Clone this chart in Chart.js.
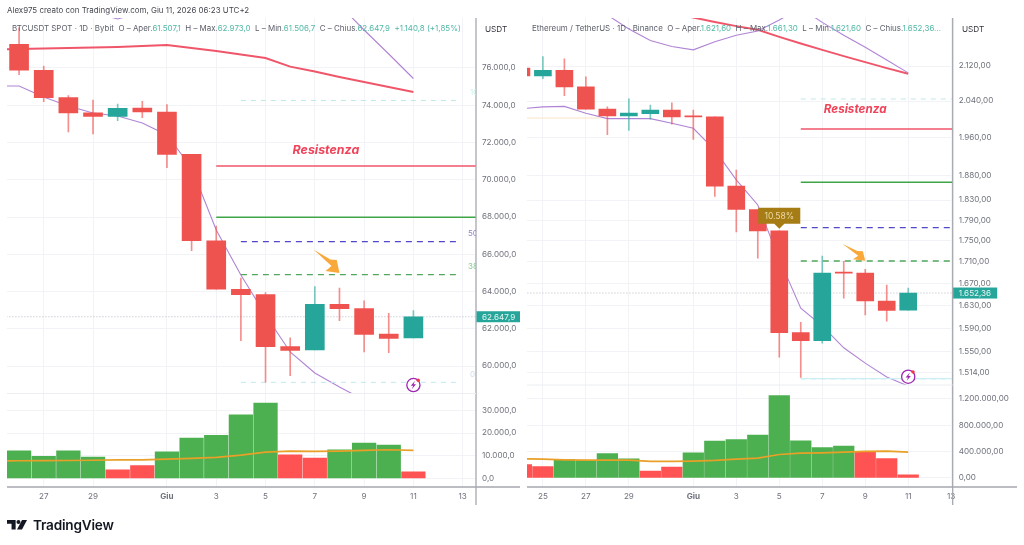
<!DOCTYPE html>
<html>
<head>
<meta charset="utf-8">
<title>BTCUSDT / ETHUSDT</title>
<script src="https://cdn.jsdelivr.net/npm/chart.js@4"></script>
<style>
  html, body { margin: 0; padding: 0; background: #fff; width: 1024px; height: 545px; overflow: hidden; }
  body { position: relative; font-family: Inter, "Liberation Sans", sans-serif; }
  canvas { position: absolute; top: 0; }
  #btcChart { left: 0; }
  #ethChart { left: 520px; }
  .txt { position: absolute; white-space: nowrap; font-size: 7.95px; line-height: 12px; color: #5d606b; }
  .txt b { font-weight: 400; color: #4fb8a4; }
  #credit { left: 7px; top: 4px; color: #454850; font-size: 7.95px; }
  #btcLegend { left: 12px; top: 22px; }
  #ethLegend { left: 532px; top: 22px; }
  .unit { top: 23px; color: #33353c; font-size: 8.2px; }
  #logo { position: absolute; left: 7px; top: 520px; }
  #brand { position: absolute; left: 33px; top: 515px; font-size: 13.6px; line-height: 20px; font-weight: 600; color: #131722; letter-spacing: -0.2px; }
</style>
</head>
<body>
<canvas id="btcChart" width="520" height="545"></canvas>
<canvas id="ethChart" width="504" height="545"></canvas>

<div class="txt" id="credit">Alex975 creato con TradingView.com, Giu 11, 2026 06:23 UTC+2</div>
<div class="txt" id="btcLegend">BTCUSDT SPOT · 1D · Bybit &nbsp;O – Aper.<b>61.507,1</b> &nbsp;H – Max.<b>62.973,0</b> &nbsp;L – Min.<b>61.506,7</b> &nbsp;C – Chius.<b>62.647,9</b> &nbsp;<b>+1.140,8 (+1,85%)</b></div>
<div class="txt" id="ethLegend">Ethereum / TetherUS · 1D · Binance &nbsp;O – Aper.<b>1.621,60</b> &nbsp;H – Max.<b>1.661,30</b> &nbsp;L – Min.<b>1.621,60</b> &nbsp;C – Chius.<b>1.652,36...</b></div>
<div class="txt unit" style="left:485px">USDT</div>
<div class="txt unit" style="left:962px">USDT</div>

<svg id="logo" width="20" height="10" viewBox="0 0 22 11">
  <path fill="#131722" d="M0 0h9.5v10.5H5V4H0z"/><circle cx="12.6" cy="2.2" r="2.2" fill="#131722"/><path fill="#131722" d="M16.5 0H22l-5.5 10.5H11z"/>
</svg>
<div id="brand">TradingView</div>

<script>
// Day numbers count from 31 May = 0, so 1 June = 1
var btcDays = [-5, -4, -3, -2, -1, 0, 1, 2, 3, 4, 5, 6, 7, 8, 9, 10, 11];
var btcOpen = [77272, 75877, 74406, 73600, 73407, 73853, 73638, 71367, 66729, 64121, 63831, 61039, 60862, 63315, 63079, 61722, 61507.1];
var btcHigh = [78150, 76107, 74513, 74282, 74068, 74212, 74030, 71367, 67518, 64727, 63938, 61522, 64260, 64190, 63508, 62832, 62973];
var btcLow = [75640, 74191, 72565, 72457, 73171, 73332, 70648, 66193, 64121, 61362, 59129, 59483, 60862, 62435, 60755, 60717, 61506.7];
var btcClose = [75877, 74406, 73584, 73407, 73837, 73638, 71367, 66729, 64121, 63831, 61039, 60846, 63315, 63079, 61705, 61490, 62647.9];
var btcVolume = [12200, 9700, 12200, 9400, 3800, 5700, 11750, 17750, 18950, 28050, 33200, 10400, 8950, 12600, 15550, 14680, 2950];
var btcVolumeUp = [1, 1, 1, 1, 0, 0, 1, 1, 1, 1, 1, 0, 0, 1, 1, 1, 0];

var btcLineDays = [-6, -5, -4, -3, -2, -1, 0, 1, 2, 3, 4, 5, 6, 7, 8, 9, 10, 11];
var btcUpperBand = [79700, 79500, 79300, 79100, 79000, 78630, 79000, 79400, 80000, 80400, 80600, 80500, 80300, 79900, 79382, 78040, 76752, 75436];
var btcLowerBand = [75034, 75034, 74443, 73960, 73584, 73423, 73048, 72404, 70632, 67304, 64888, 62741, 60755, 59627, 58876, 58178, 57600, 57000];
var btcAverage = [77000, 77020, 77047, 77074, 77100, 77127, 77181, 77235, 77074, 76912, 76725, 76537, 76070, 75812, 75517, 75248, 74980, 74712];
var btcVolumeAverage = [7750, 7780, 7850, 7900, 8000, 8200, 8200, 8500, 8800, 9250, 10280, 11600, 12040, 11900, 12040, 12330, 12630, 12330];

var ethDays = [-7, -6, -5, -4, -3, -2, -1, 0, 1, 2, 3, 4, 5, 6, 7, 8, 9, 10, 11];
var ethOpen = [2115, 2097, 2110, 2072, 2022, 2007, 2012, 2020, 2007, 2005, 1858, 1811, 1769, 1582, 1568, 1690, 1689, 1638, 1621.6];
var ethHigh = [2125, 2142, 2137, 2095, 2027, 2045, 2031, 2036, 2020, 2005, 1891, 1811, 1769, 1600, 1721, 1711, 1696, 1667, 1661.3];
var ethLow = [2090, 2091, 2052, 2022, 1966, 1975, 2000, 1989, 1956, 1837, 1767, 1717, 1540, 1506, 1564, 1643, 1613, 1602, 1621.6];
var ethClose = [2097, 2110, 2072, 2022, 2007, 2013, 2020, 2005, 2005, 1858, 1811, 1769, 1582, 1568, 1689, 1689, 1638, 1621, 1652.36];
var ethVolume = [203000, 172000, 279000, 264000, 370000, 289000, 102000, 163000, 381000, 559000, 583000, 650000, 1253000, 563000, 461000, 483000, 396000, 294000, 46000];
var ethVolumeUp = [0, 0, 1, 1, 1, 1, 0, 0, 1, 1, 1, 1, 1, 1, 1, 1, 0, 0, 0];

var ethUpperBand = [2300, 2295, 2285, 2267, 2242, 2208, 2180, 2166, 2158, 2177, 2193, 2203, 2230, 2259, 2224, 2193, 2164, 2134, 2104];
var ethLowerBand = [2023, 2027, 2028, 2013, 2001, 2001, 2001, 1991, 1980, 1933, 1871, 1820, 1715, 1625, 1594, 1556, 1530, 1507, 1492];
var ethAverage = [2300, 2280, 2265, 2255, 2250, 2248, 2246, 2244, 2236, 2225, 2215, 2206, 2189, 2173, 2158, 2143, 2129, 2115, 2102];
var ethVolumeAverage = [290000, 284000, 274000, 269000, 269000, 269000, 249000, 249000, 254000, 264000, 284000, 299000, 355000, 376000, 381000, 391000, 401000, 406000, 391000];

var btcPriceTicks = [60000, 62000, 64000, 66000, 68000, 70000, 72000, 74000, 76000];
var btcVolumeTicks = [0, 10000, 20000, 30000];
var btcDayTicks = [-4, -2, 1, 3, 5, 7, 9, 11, 13];
var btcDayLabels = ['27', '29', 'Giu', '3', '5', '7', '9', '11', '13'];

var ethPriceTicks = [1514, 1550, 1590, 1630, 1670, 1710, 1750, 1790, 1830, 1880, 1960, 2040, 2120];
var ethVolumeTicks = [0, 400000, 800000, 1200000];
var ethDayTicks = [-6, -4, -2, 1, 3, 5, 7, 9, 11, 13];
var ethDayLabels = ['25', '27', '29', 'Giu', '3', '5', '7', '9', '11', '13'];

// level, first day, last day
var btcResistance = [70739, 3, 13.6];
var btcSupport = [67986, 3, 13.6];
var btcFib100 = [74255, 4, 12.9];
var btcFib50 = [66676, 4, 12.9];
var btcFib38 = [64904, 4, 12.9];
var btcFib0 = [59128, 4, 12.9];
var btcLast = [62647.9, -6, 14];

var ethResistance = [1978.3, 6, 13.2];
var ethSupport = [1865.9, 6, 13.2];
var ethFib100 = [2044.6, 6, 13.2];
var ethFib50 = [1775.2, 6, 13.2];
var ethFib38 = [1711.5, 6, 13.2];
var ethFib0 = [1504.1, 6, 13.2];
var ethOldLevel = [2002.4, -7, -3.3];
var ethLast = [1652.36, -7, 14];

var RED = '#ef5350';
var TEAL = '#26a69a';
var TICK = '#6f727c';
var TICK_SIZE = 8.1;

function fmt(v, digits) {
    var parts = v.toFixed(digits).split('.');
    return parts[0].replace(/\B(?=(\d{3})+$)/g, '.') + ',' + parts[1];
}

function pairs(xs, ys) {
    return xs.map(function (x, i) { return { x: x, y: ys[i] }; });
}

function candleColors(open, close, up, down) {
    return open.map(function (o, i) { return close[i] >= o ? up : down; });
}

function level(item, color, dash, width) {
    return {
        type: 'line', yAxisID: 'y', order: 6,
        data: [{ x: item[1], y: item[0] }, { x: item[2], y: item[0] }],
        borderColor: color, borderWidth: width, borderDash: dash, pointRadius: 0
    };
}

function bandLine(xs, ys, color, width) {
    return {
        type: 'line', yAxisID: 'y', order: 7, data: pairs(xs, ys),
        borderColor: color, borderWidth: width, pointRadius: 0, tension: 0
    };
}

function overlayPlugin(cfg) {
    return {
        id: 'overlay',
        afterDraw: function (chart) {
            var ctx = chart.ctx, area = chart.chartArea;
            var xs = chart.scales.x, ys = chart.scales.y, yv = chart.scales.yVol;

            // axis frame
            ctx.save();
            ctx.strokeStyle = '#a6a8b0';
            ctx.lineWidth = 1.3;
            ctx.beginPath();
            ctx.moveTo(area.left, area.bottom);
            ctx.lineTo(cfg.axisEnd, area.bottom);
            ctx.moveTo(area.right, area.top);
            ctx.lineTo(area.right, 505);
            ctx.stroke();
            ctx.lineWidth = 1;
            ctx.strokeStyle = '#eceef2';
            ctx.beginPath();
            ctx.moveTo(area.left, yv.top);
            ctx.lineTo(area.right, yv.top);
            ctx.stroke();

            // resistance caption
            ctx.font = 'italic 700 ' + cfg.captionSize + 'px Inter, sans-serif';
            ctx.fillStyle = '#f0435a';
            ctx.textAlign = 'center';
            ctx.textBaseline = 'middle';
            ctx.fillText('Resistenza', xs.getPixelForValue(cfg.caption[0]), ys.getPixelForValue(cfg.caption[1]));

            // fibonacci captions, cut off by the price axis
            ctx.save();
            ctx.beginPath();
            ctx.rect(area.left, area.top, area.width, area.height);
            ctx.clip();
            ctx.font = '8px Inter, sans-serif';
            ctx.textAlign = 'left';
            cfg.fibLabels.forEach(function (f) {
                ctx.fillStyle = f[2];
                ctx.fillText(f[0], area.right - f[3], ys.getPixelForValue(f[1]) - 8);
            });
            ctx.restore();

            // arrow
            var tipX = xs.getPixelForValue(cfg.arrow[0]), tipY = ys.getPixelForValue(cfg.arrow[1]);
            var sx = cfg.arrow[2], sy = cfg.arrow[3];
            var shape = [[-25.7, -23.3], [-9, -13.5], [-2.7, -13], [0, 0], [-14, -2], [-8, -7]];
            ctx.fillStyle = '#f9a93c';
            ctx.beginPath();
            shape.forEach(function (p, i) {
                if (i === 0) ctx.moveTo(tipX + p[0] * sx, tipY + p[1] * sy);
                else ctx.lineTo(tipX + p[0] * sx, tipY + p[1] * sy);
            });
            ctx.closePath();
            ctx.fill();

            // alert icon
            var ix = xs.getPixelForValue(cfg.alert[0]), iy = ys.getPixelForValue(cfg.alert[1]);
            ctx.fillStyle = '#fff';
            ctx.strokeStyle = '#9c27b0';
            ctx.lineWidth = 1.3;
            ctx.beginPath();
            ctx.arc(ix, iy, 6.6, 0, Math.PI * 2);
            ctx.fill();
            ctx.stroke();
            ctx.fillStyle = '#9c27b0';
            ctx.beginPath();
            ctx.moveTo(ix + 1.6, iy - 4.2);
            ctx.lineTo(ix - 2.6, iy + 0.8);
            ctx.lineTo(ix - 0.2, iy + 0.8);
            ctx.lineTo(ix - 1.6, iy + 4.2);
            ctx.lineTo(ix + 2.6, iy - 0.8);
            ctx.lineTo(ix + 0.2, iy - 0.8);
            ctx.closePath();
            ctx.fill();
            ctx.fillStyle = '#f23645';
            ctx.beginPath();
            ctx.arc(ix + 4.8, iy - 4.8, 1.7, 0, Math.PI * 2);
            ctx.fill();

            // percentage badge
            if (cfg.badge) {
                var bx = xs.getPixelForValue(cfg.badge[0]), by = ys.getPixelForValue(cfg.badge[1]) - 2;
                ctx.fillStyle = '#a67c14';
                ctx.beginPath();
                ctx.moveTo(bx, by);
                ctx.lineTo(bx - 5, by - 5);
                ctx.lineTo(bx - 21, by - 5);
                ctx.lineTo(bx - 21, by - 21);
                ctx.lineTo(bx + 21, by - 21);
                ctx.lineTo(bx + 21, by - 5);
                ctx.lineTo(bx + 5, by - 5);
                ctx.closePath();
                ctx.fill();
                ctx.fillStyle = '#ecd9a6';
                ctx.font = '8.5px Inter, sans-serif';
                ctx.textAlign = 'center';
                ctx.fillText(cfg.badge[2], bx, by - 12.5);
            }

            // last price tag on the axis
            var ty = ys.getPixelForValue(cfg.last[0]);
            ctx.fillStyle = TEAL;
            ctx.fillRect(area.right + 0.5, ty - 5.5, cfg.last[2], 11);
            ctx.fillStyle = '#e8f6f4';
            ctx.font = TICK_SIZE + 'px Inter, sans-serif';
            ctx.textAlign = 'left';
            ctx.fillText(cfg.last[1], area.right + 6, ty + 0.5);
            ctx.restore();
        }
    };
}

function buildChart(id, cfg) {
    var wickData = cfg.days.map(function (d, i) { return { x: d, y: [cfg.low[i], cfg.high[i]] }; });
    var bodyData = cfg.days.map(function (d, i) { return { x: d, y: [cfg.open[i], cfg.close[i]] }; });
    var volumeColors = cfg.volumeUp.map(function (u) { return u ? '#4caf50' : '#ff5252'; });

    var ctx = document.getElementById(id).getContext('2d');
    return new Chart(ctx, {
        type: 'bar',
        data: {
            datasets: cfg.levels.concat([
                bandLine(cfg.lineDays, cfg.upper, '#b084d4', 1.1),
                bandLine(cfg.lineDays, cfg.lower, '#b084d4', 1.1),
                bandLine(cfg.lineDays, cfg.average, '#f0566a', 1.9),
                {
                    type: 'bar', yAxisID: 'yVol', order: 5, grouped: false,
                    data: pairs(cfg.days, cfg.volume),
                    backgroundColor: volumeColors, barThickness: cfg.volumeWidth
                },
                {
                    type: 'line', yAxisID: 'yVol', order: 1,
                    data: pairs(cfg.lineDays, cfg.volumeAverage),
                    borderColor: '#e9a028', borderWidth: 1.7, pointRadius: 0, tension: 0
                },
                {
                    type: 'bar', yAxisID: 'y', order: 4, grouped: false,
                    data: wickData,
                    backgroundColor: candleColors(cfg.open, cfg.close, 'rgba(38,166,154,0.6)', 'rgba(239,83,80,0.65)'),
                    barThickness: 1
                },
                {
                    type: 'bar', yAxisID: 'y', order: 3, grouped: false,
                    data: bodyData,
                    backgroundColor: candleColors(cfg.open, cfg.close, TEAL, RED),
                    barThickness: cfg.bodyWidth, minBarLength: 1
                }
            ])
        },
        options: {
            responsive: false,
            animation: false,
            devicePixelRatio: 1,
            layout: { padding: { left: 7, top: 18, right: 0, bottom: 40 } },
            plugins: { legend: { display: false }, tooltip: { enabled: false } },
            scales: {
                x: {
                    type: 'linear', offset: false,
                    min: cfg.xRange[0], max: cfg.xRange[1],
                    grid: { color: '#f2f3f6', offset: false, drawTicks: false },
                    border: { display: false },
                    afterBuildTicks: function (scale) {
                        scale.ticks = cfg.dayTicks.map(function (v) { return { value: v }; });
                    },
                    afterFit: function (scale) { scale.height = 18; },
                    ticks: {
                        autoSkip: false, maxRotation: 0, padding: 5, color: TICK,
                        font: function (c) {
                            return c.tick && c.tick.value === 1
                                ? { family: 'Inter', size: TICK_SIZE, weight: '700' }
                                : { family: 'Inter', size: TICK_SIZE };
                        },
                        callback: function (v, i) { return cfg.dayLabels[i]; }
                    }
                },
                y: {
                    type: cfg.priceType, position: 'right', stack: 'panes', stackWeight: cfg.priceHeight,
                    min: cfg.priceRange[0], max: cfg.priceRange[1],
                    grid: { color: '#f2f3f6', drawTicks: false },
                    border: { display: false },
                    afterBuildTicks: function (scale) {
                        scale.ticks = cfg.priceTicks.map(function (v) { return { value: v }; });
                    },
                    afterFit: function (scale) { scale.width = cfg.axisWidth; },
                    ticks: {
                        autoSkip: false, padding: 6, color: TICK, font: { family: 'Inter', size: TICK_SIZE },
                        callback: function (v) { return fmt(v, cfg.priceDigits); }
                    }
                },
                yVol: {
                    type: 'linear', position: 'right', stack: 'panes', stackWeight: cfg.volumeHeight,
                    min: cfg.volumeRange[0], max: cfg.volumeRange[1],
                    grid: { color: '#f2f3f6', drawTicks: false },
                    border: { display: false },
                    afterBuildTicks: function (scale) {
                        scale.ticks = cfg.volumeTicks.map(function (v) { return { value: v }; });
                    },
                    afterFit: function (scale) { scale.width = cfg.axisWidth; },
                    ticks: {
                        autoSkip: false, padding: 6, color: TICK, font: { family: 'Inter', size: TICK_SIZE },
                        callback: function (v) { return fmt(v, cfg.priceDigits); }
                    }
                }
            }
        },
        plugins: [overlayPlugin(cfg.overlay)]
    });
}

buildChart('btcChart', {
    days: btcDays, open: btcOpen, high: btcHigh, low: btcLow, close: btcClose,
    volume: btcVolume, volumeUp: btcVolumeUp,
    lineDays: btcLineDays, upper: btcUpperBand, lower: btcLowerBand, average: btcAverage, volumeAverage: btcVolumeAverage,
    priceTicks: btcPriceTicks, volumeTicks: btcVolumeTicks, dayTicks: btcDayTicks, dayLabels: btcDayLabels,
    xRange: [-5.49, 13.54], priceRange: [58527, 78684], volumeRange: [-3794, 37450],
    priceType: 'linear', priceDigits: 1, priceHeight: 375.5, volumeHeight: 93.5,
    axisWidth: 44, bodyWidth: 19, volumeWidth: 23.6,
    levels: [
        level(btcLast, '#b4bac4', [1, 2], 1),
        level(btcResistance, '#f0566a', [], 1.6),
        level(btcSupport, '#3fa648', [], 1.4),
        level(btcFib100, '#bfe9e6', [5, 5], 1),
        level(btcFib50, '#5048c8', [6, 5], 1.3),
        level(btcFib38, '#4fa85c', [6, 5], 1.3),
        level(btcFib0, '#bfe9ee', [5, 5], 1)
    ],
    overlay: {
        axisEnd: 520, captionSize: 12.4, caption: [7.45, 71598],
        fibLabels: [['100', 74255, '#cdeeea', 6], ['50', 66676, '#8d87cc', 8], ['38', 64904, '#8ccb93', 8], ['0', 59128, '#d3dce8', 6]],
        arrow: [8, 64996, 1, 1], alert: [11, 58983],
        last: [62647.9, '62.647,9', 44]
    }
});

buildChart('ethChart', {
    days: ethDays, open: ethOpen, high: ethHigh, low: ethLow, close: ethClose,
    volume: ethVolume, volumeUp: ethVolumeUp,
    lineDays: ethDays, upper: ethUpperBand, lower: ethLowerBand, average: ethAverage, volumeAverage: ethVolumeAverage,
    priceTicks: ethPriceTicks, volumeTicks: ethVolumeTicks, dayTicks: ethDayTicks, dayLabels: ethDayLabels,
    xRange: [-6.74, 13.07], priceRange: [1493.7, 2234.7], volumeRange: [-140000, 1413000],
    priceType: 'logarithmic', priceDigits: 2, priceHeight: 367, volumeHeight: 102,
    axisWidth: 71.3, bodyWidth: 17, volumeWidth: 20.6,
    levels: [
        level(ethLast, '#b4bac4', [1, 2], 1),
        level(ethOldLevel, '#fbe3c8', [], 1),
        level(ethResistance, '#f0566a', [], 1.6),
        level(ethSupport, '#3fa648', [], 1.4),
        level(ethFib100, '#bfe9e6', [5, 5], 1),
        level(ethFib50, '#5048c8', [6, 5], 1.3),
        level(ethFib38, '#4fa85c', [6, 5], 1.3),
        level(ethFib0, '#cdeef2', [], 1.2),
        level(ethFib0, '#a7e3ea', [5, 5], 1.2)
    ],
    overlay: {
        axisEnd: 497, captionSize: 11.7, caption: [8.53, 2021],
        fibLabels: [],
        arrow: [9, 1712, 0.88, 0.72], alert: [11, 1507.4],
        badge: [5, 1769.4, '10.58%'],
        last: [1652.36, '1.652,36', 44]
    }
});
</script>
</body>
</html>
